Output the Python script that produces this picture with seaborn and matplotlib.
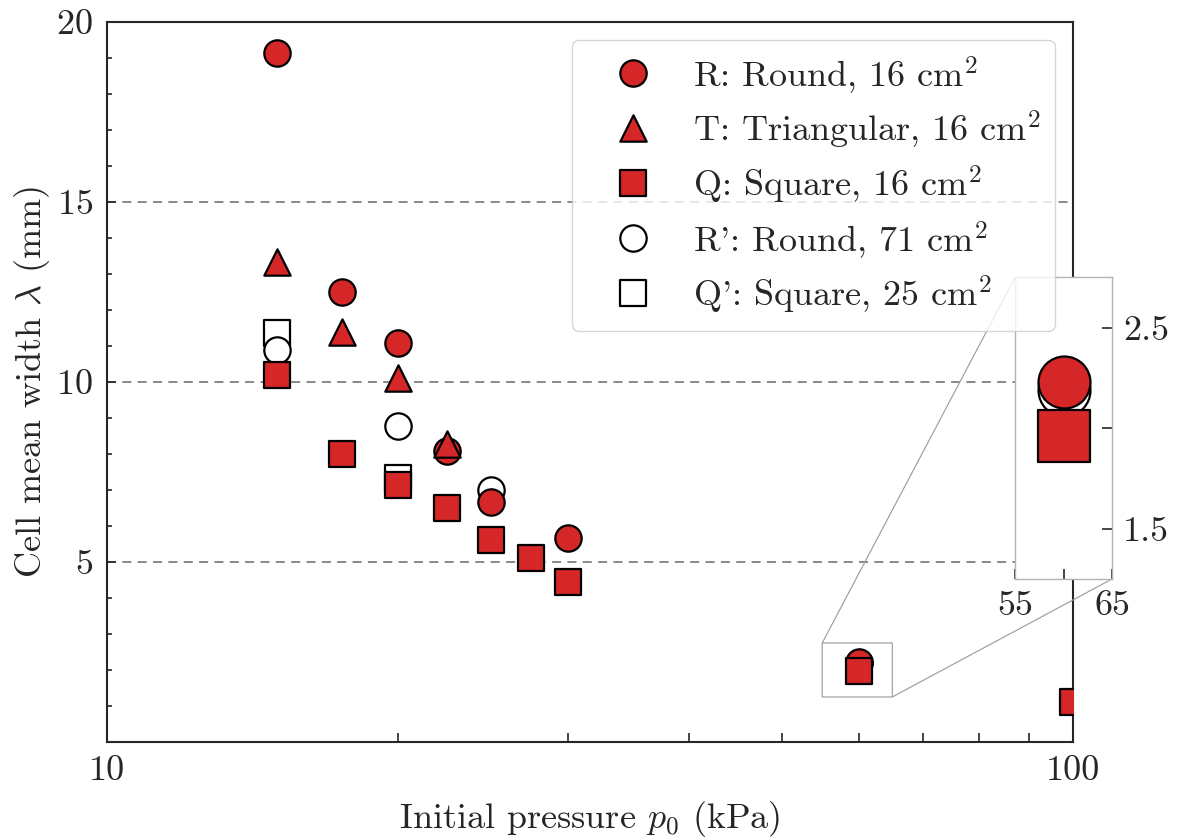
import numpy as np
import pandas as pd
import matplotlib
matplotlib.use("Agg")
import matplotlib.pyplot as plt
import matplotlib.ticker as mticker
import seaborn as sns

# Data
r_p = [15, 17.5, 20, 22.5, 25, 30, 60]
r_lam = [19.14, 12.51, 11.07, 8.07, 6.67, 5.68, 2.23]

t_p = [15, 17.5, 20, 22.5]
t_lam = [13.32, 11.38, 10.12, 8.28]

q_p = [15, 17.5, 20, 22.5, 25, 27.5, 30, 60, 100]
q_lam = [10.19, 7.99, 7.13, 6.49, 5.60, 5.10, 4.44, 1.96, 1.10]

rp_p = [15, 20, 25, 60]
rp_lam = [10.90, 8.78, 7.01, 2.19]

qp_p = [15, 20]
qp_lam = [11.35, 7.33]

labels = [r"R: Round, 16 cm$^\mathbf{2}$", r"T: Triangular, 16 cm$^\mathbf{2}$",
          r"Q: Square, 16 cm$^\mathbf{2}$", r"R': Round, 71 cm$^\mathbf{2}$",
          r"Q': Square, 25 cm$^\mathbf{2}$"]

sns.set_style("ticks")
plt.rcParams["font.family"] = "serif"
plt.rcParams["font.serif"] = ["cmr10"]
plt.rcParams["mathtext.fontset"] = "cm"
plt.rcParams["axes.formatter.use_mathtext"] = True
plt.rcParams["font.size"] = 26

red = "#d62728"
series = [
    (r_p, r_lam, "o", red, 3.0),
    (t_p, t_lam, "^", red, 3.1),
    (q_p, q_lam, "s", red, 3.2),
    (rp_p, rp_lam, "o", "white", 2.1),
    (qp_p, qp_lam, "s", "white", 2.0),
]

fig, ax = plt.subplots(figsize=(11.78, 8.38), dpi=100)
fig.subplots_adjust(left=0.0908, right=0.9109, top=0.9737, bottom=0.1146)

ax.set_xscale("log")
ax.set_xlim(10, 100)
ax.set_ylim(0, 20)

# inset axes
axins = ax.inset_axes([0.94, 0.2264, 0.1004, 0.419])

for (px, ly, mk, col, z), lab in zip(series, labels):
    df = pd.DataFrame({"p": px, "lam": ly})
    sns.scatterplot(data=df, x="p", y="lam", marker=mk, color=col, edgecolor="black",
                    linewidth=1.6, s=360, label=lab, zorder=z, ax=ax)
    sns.scatterplot(data=df, x="p", y="lam", marker=mk, color=col, edgecolor="black",
                    linewidth=1.6, s=1400, zorder=z, ax=axins, legend=False)

ax.set_xticks([10, 100])
ax.set_xticklabels(["10", "100"])
ax.xaxis.set_minor_locator(mticker.LogLocator(base=10, subs=np.arange(2, 10)))
ax.xaxis.set_minor_formatter(mticker.NullFormatter())
ax.set_yticks([5, 10, 15, 20])
ax.yaxis.set_minor_locator(mticker.MultipleLocator(1))
ax.tick_params(which="both", direction="in", top=False, right=False)
ax.tick_params(axis="x", which="major", length=7, width=1.2)
ax.tick_params(axis="x", which="minor", length=6.5, width=1.2)
ax.tick_params(axis="y", which="major", length=6.5, width=1.2)
ax.tick_params(axis="y", which="minor", length=3.6, width=1.2)
ax.tick_params(axis="both", pad=10)
for sp in ax.spines.values():
    sp.set_linewidth(1.5)
    sp.set_visible(True)

ax.yaxis.grid(True, linestyle=(0, (5, 3.5)), color="gray", linewidth=1.3)
ax.set_axisbelow(True)

ax.set_xlabel(r"Initial pressure $p_0$ (kPa)", labelpad=8)
ax.set_ylabel(r"Cell mean width $\lambda$ (mm)", labelpad=3)

ax.legend(loc="upper right", frameon=True, fancybox=True, edgecolor="0.8",
          framealpha=0.8, borderpad=0.4, handlelength=2.6, handletextpad=0.35,
          labelspacing=0.36, scatteryoffsets=[0.55], fontsize=26)

# inset styling
axins.set_xlim(55, 65)
axins.set_ylim(1.25, 2.75)
axins.set_xticks([55, 60, 65])
axins.set_xticklabels(["55", "", "65"])
axins.set_yticks([1.5, 2.0, 2.5])
axins.set_yticklabels(["1.5", "", "2.5"])
axins.yaxis.tick_right()
axins.tick_params(direction="in", length=7, width=1.2, labelsize=26, pad=8)
axins.set_xlabel("")
axins.set_ylabel("")
axins.set_facecolor("white")
for sp in axins.spines.values():
    sp.set_edgecolor("0.7")
    sp.set_linewidth(1.0)

ind = ax.indicate_inset_zoom(axins, edgecolor="0.6", linewidth=0.8, alpha=1)
# connectors: lower-left, upper-left, lower-right, upper-right
for c, vis in zip(ind.connectors, [False, True, True, False]):
    c.set_visible(vis)

fig.savefig("out.png", dpi=100)
